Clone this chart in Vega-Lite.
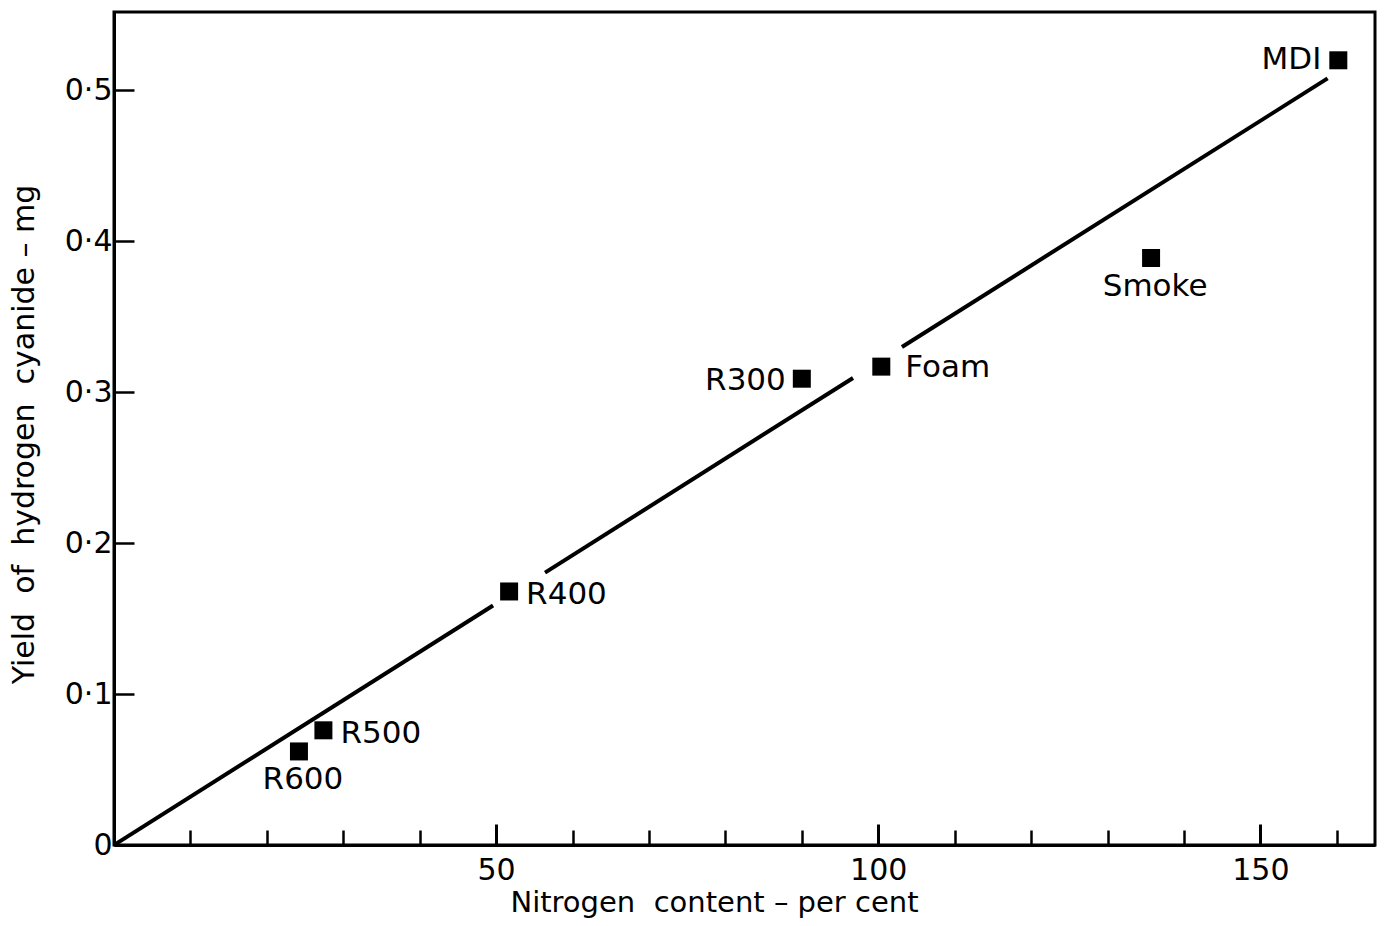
{
  "$schema": "https://vega.github.io/schema/vega-lite/v6.json",
  "autosize": "none",
  "padding": {"left": 114, "top": 12, "right": 13, "bottom": 81},
  "width": 1261,
  "height": 833,
  "background": "white",
  "config": {
    "view": {"stroke": "black", "strokeWidth": 3},
    "font": "DejaVu Sans",
    "axis": {"domainColor": "black", "domainWidth": 3, "tickColor": "black", "tickWidth": 2.5, "grid": false, "labelColor": "black", "titleColor": "black", "labelFont": "DejaVu Sans", "titleFont": "DejaVu Sans", "labelFontSize": 30, "titleFontSize": 29, "titleFontWeight": "normal"}
  },
  "datasets": {
    "points": [
      {"name": "MDI", "n": 160.2, "hcn": 0.52, "pos": "left"},
      {"name": "Smoke", "n": 135.7, "hcn": 0.389, "pos": "below"},
      {"name": "Foam", "n": 100.4, "hcn": 0.317, "pos": "right"},
      {"name": "R300", "n": 90.0, "hcn": 0.309, "pos": "left"},
      {"name": "R400", "n": 51.7, "hcn": 0.168, "pos": "right"},
      {"name": "R500", "n": 27.4, "hcn": 0.076, "pos": "right"},
      {"name": "R600", "n": 24.2, "hcn": 0.062, "pos": "below"}
    ],
    "fit": [
      {"seg": 1, "n": 0, "hcn": 0},
      {"seg": 1, "n": 49.6, "hcn": 0.1587},
      {"seg": 2, "n": 56.4, "hcn": 0.1805},
      {"seg": 2, "n": 96.7, "hcn": 0.3095},
      {"seg": 3, "n": 103.1, "hcn": 0.330},
      {"seg": 3, "n": 158.8, "hcn": 0.508}
    ]
  },
  "resolve": {"axis": {"x": "independent"}},
  "layer": [
    {
      "data": {"name": "fit"},
      "mark": {"type": "line", "color": "black", "strokeWidth": 4, "clip": true},
      "encoding": {
        "x": {"field": "n", "type": "quantitative",
          "scale": {"domain": [0, 165], "nice": false, "zero": true},
          "axis": {"orient": "bottom", "title": "Nitrogen\u00a0\u00a0content \u2013 per cent", "titleX": 600, "values": [10,20,30,40,50,60,70,80,90,100,110,120,130,140,150,160],
            "labelExpr": "datum.value % 50 === 0 ? datum.value : ''",
            "tickSize": -15,
            "labelPadding": 25, "titlePadding": 3}},
        "y": {"field": "hcn", "type": "quantitative",
          "scale": {"domain": [0, 0.552], "nice": false},
          "axis": {"title": "Yield\u00a0\u00a0of\u00a0\u00a0hydrogen\u00a0\u00a0cyanide \u2013 mg", "titleY": 422, "titleFontSize": 30, "values": [0, 0.1, 0.2, 0.3, 0.4, 0.5],
            "labelExpr": "datum.value === 0 ? '0' : replace(format(datum.value, '.1f'), '.', '\u00b7')",
            "tickSize": -20, "labelPadding": 22, "titlePadding": 25}},
        "detail": {"field": "seg"}
      }
    },
    {
      "data": {"name": "points"},
      "mark": {"type": "square", "color": "black", "filled": true, "opacity": 1, "size": 324},
      "encoding": {
        "x": {"field": "n", "type": "quantitative",
          "axis": {"orient": "bottom", "title": null, "values": [50, 100, 150], "labels": false, "domain": false, "tickSize": -21, "tickWidth": 3}},
        "y": {"field": "hcn", "type": "quantitative"}
      }
    },
    {
      "data": {"name": "points"},
      "transform": [{"filter": "datum.pos === 'right' && datum.name !== 'Foam'"}],
      "mark": {"type": "text", "align": "left", "baseline": "middle", "dx": 17, "dy": 4, "fontSize": 31, "font": "DejaVu Sans", "color": "black"},
      "encoding": {
        "x": {"field": "n", "type": "quantitative", "axis": null},
        "y": {"field": "hcn", "type": "quantitative"},
        "text": {"field": "name"}
      }
    },
    {
      "data": {"name": "points"},
      "transform": [{"filter": "datum.name === 'Foam'"}],
      "mark": {"type": "text", "align": "left", "baseline": "middle", "dx": 24, "dy": 1, "fontSize": 31, "font": "DejaVu Sans", "color": "black"},
      "encoding": {
        "x": {"field": "n", "type": "quantitative", "axis": null},
        "y": {"field": "hcn", "type": "quantitative"},
        "text": {"field": "name"}
      }
    },
    {
      "data": {"name": "points"},
      "transform": [{"filter": "datum.name === 'R300'"}],
      "mark": {"type": "text", "align": "right", "baseline": "middle", "dx": -16, "dy": 2, "fontSize": 31, "font": "DejaVu Sans", "color": "black"},
      "encoding": {
        "x": {"field": "n", "type": "quantitative", "axis": null},
        "y": {"field": "hcn", "type": "quantitative"},
        "text": {"field": "name"}
      }
    },
    {
      "data": {"name": "points"},
      "transform": [{"filter": "datum.name === 'MDI'"}],
      "mark": {"type": "text", "align": "right", "baseline": "middle", "dx": -17, "dy": 0, "fontSize": 31, "font": "DejaVu Sans", "color": "black"},
      "encoding": {
        "x": {"field": "n", "type": "quantitative", "axis": null},
        "y": {"field": "hcn", "type": "quantitative"},
        "text": {"field": "name"}
      }
    },
    {
      "data": {"name": "points"},
      "transform": [{"filter": "datum.pos === 'below'"}],
      "mark": {"type": "text", "align": "center", "baseline": "middle", "dx": 4, "dy": 29, "fontSize": 31, "font": "DejaVu Sans", "color": "black"},
      "encoding": {
        "x": {"field": "n", "type": "quantitative", "axis": null},
        "y": {"field": "hcn", "type": "quantitative"},
        "text": {"field": "name"}
      }
    }
  ]
}
